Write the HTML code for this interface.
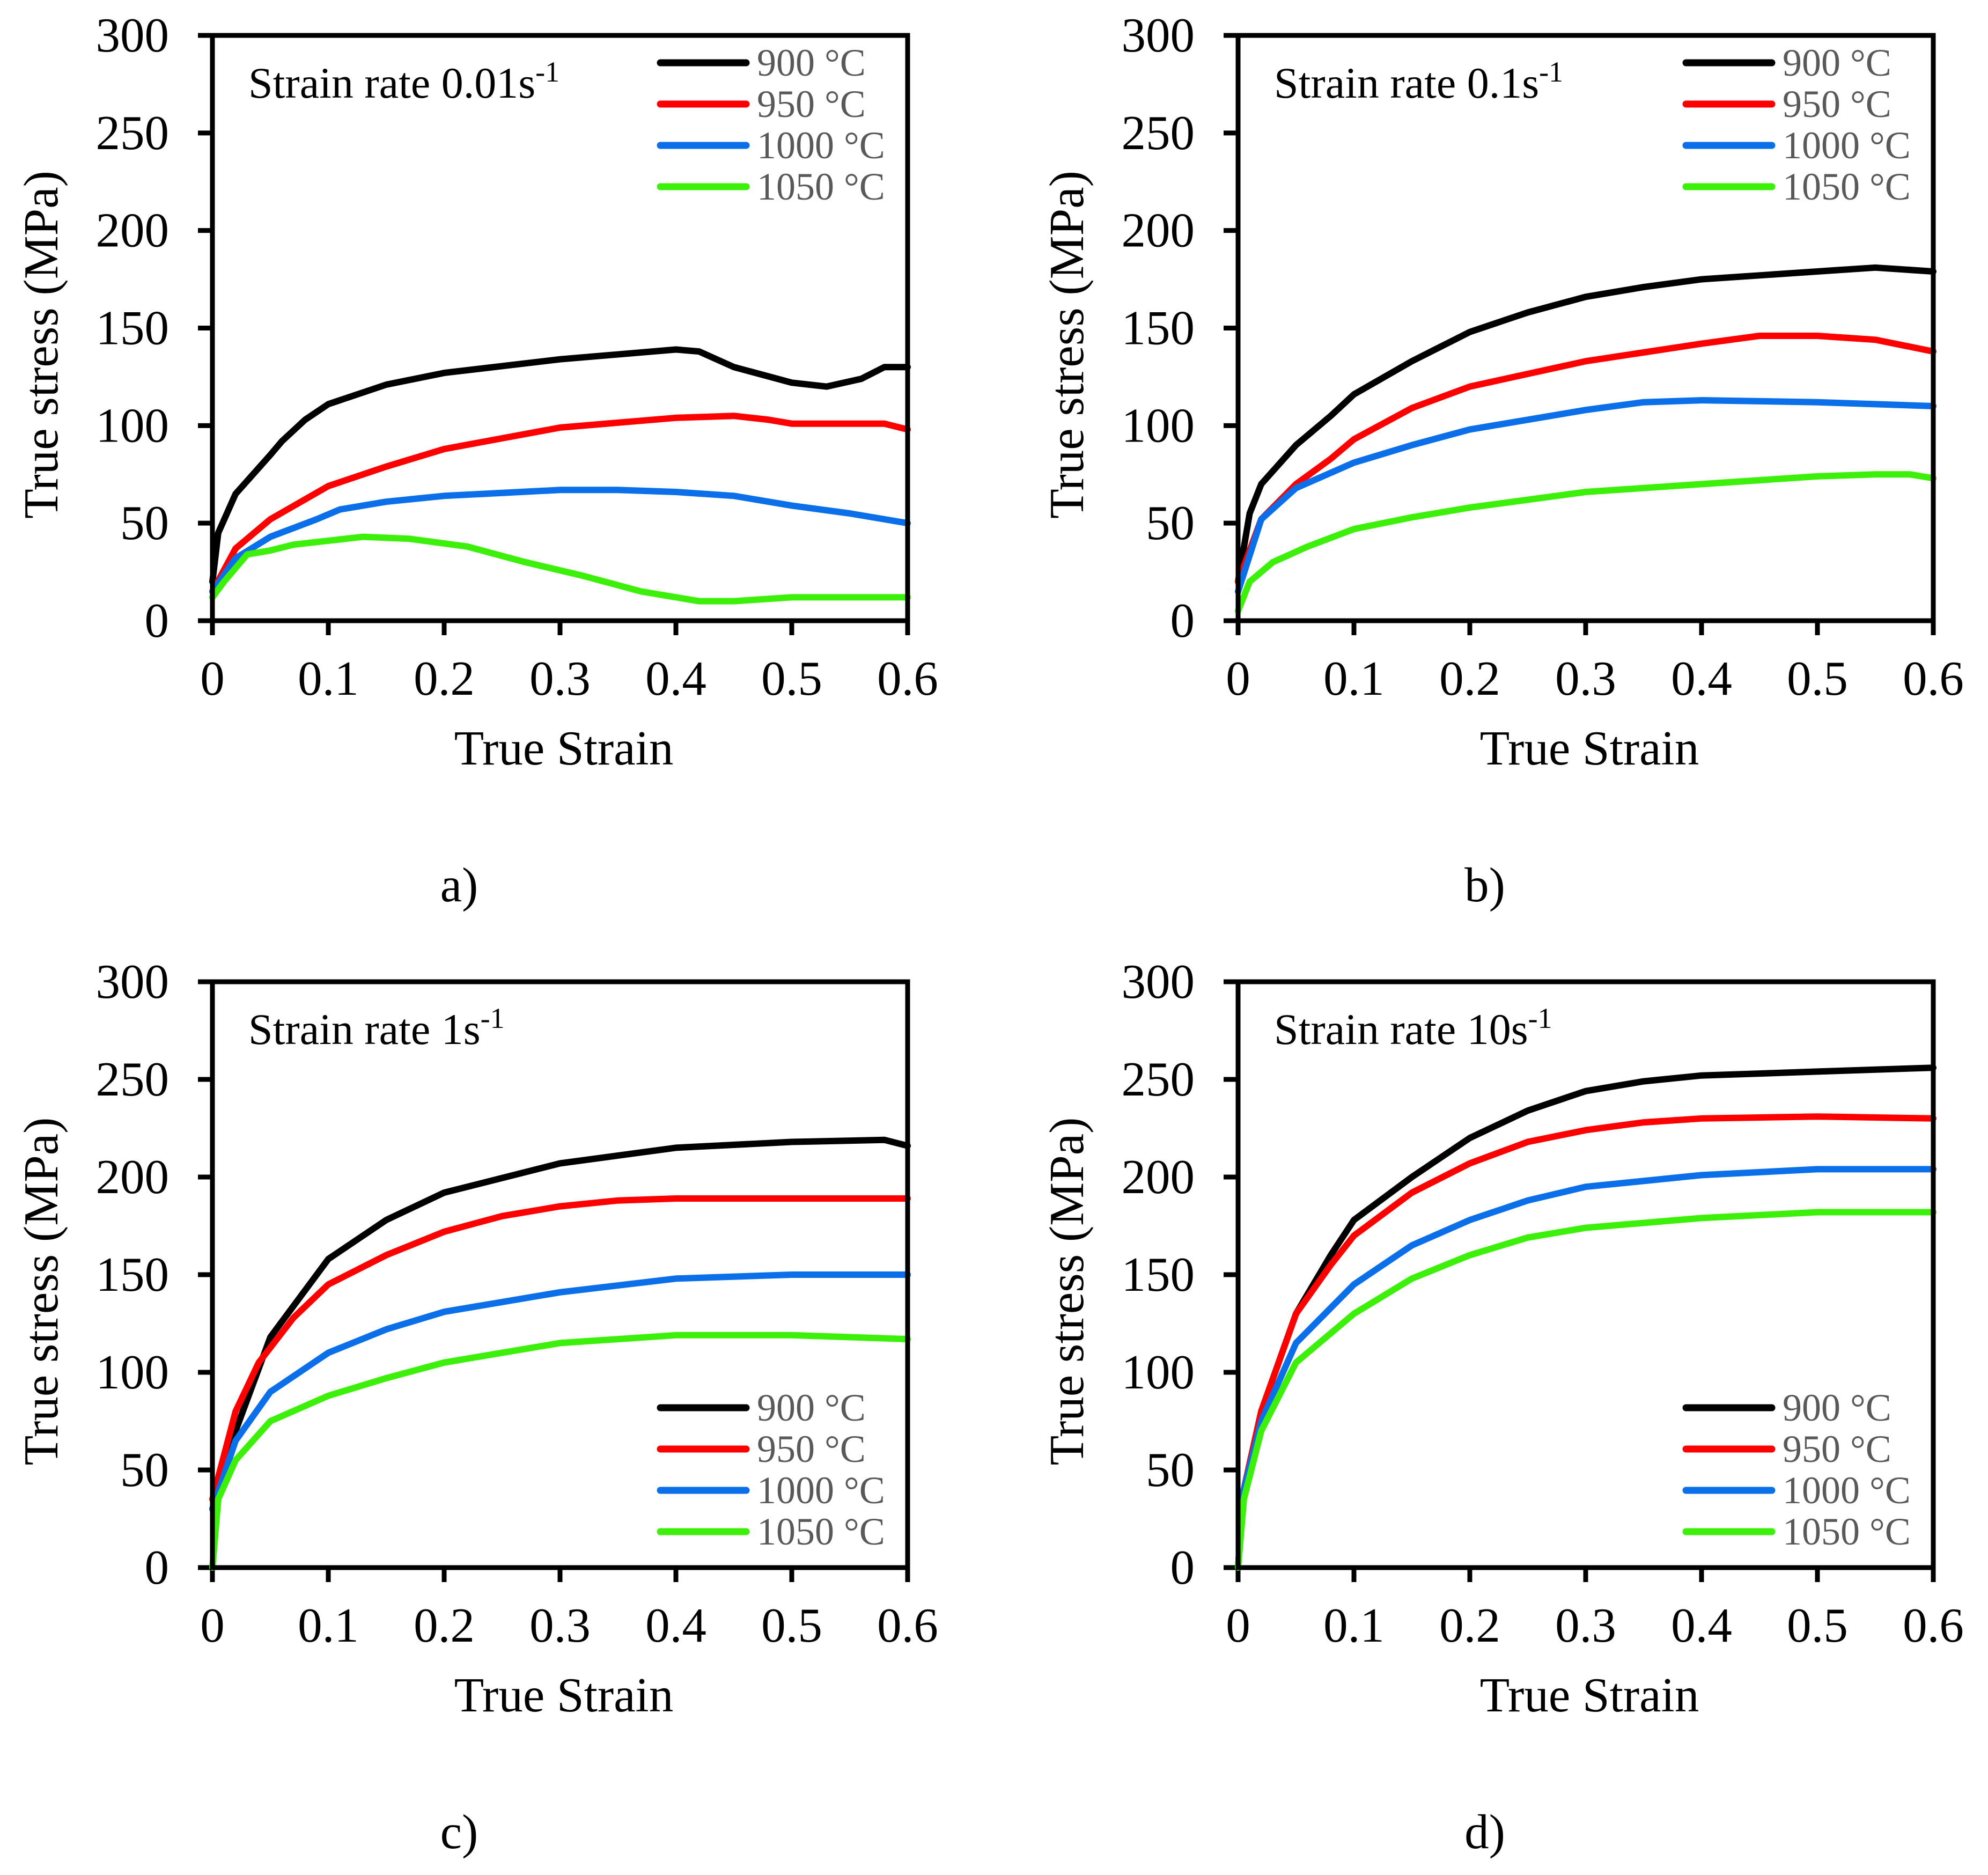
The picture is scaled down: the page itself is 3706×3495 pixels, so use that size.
<!DOCTYPE html>
<html><head><meta charset="utf-8"><style>
html,body{margin:0;padding:0;background:#fff}
svg{display:block}
text{font-family:"Liberation Serif",serif;fill:#000}
</style></head><body>
<svg id="root" width="3706" height="3495" viewBox="0 0 3706 3495" xmlns="http://www.w3.org/2000/svg"></svg>
<script>
// ---- data ----
const xTicks=[0,0.1,0.2,0.3,0.4,0.5,0.6];
const xTickLabels=["0","0.1","0.2","0.3","0.4","0.5","0.6"];
const yTicks=[0,50,100,150,200,250,300];
const yTickLabels=["0","50","100","150","200","250","300"];
const seriesNames=["900 °C","950 °C","1000 °C","1050 °C"];
const seriesColors=["#000000","#ff0000","#0a6fe8","#3cf00a"];
const panelTitles=["Strain rate 0.01s","Strain rate 0.1s","Strain rate 1s","Strain rate 10s"];
const panelLabels=["a)","b)","c)","d)"];

const a900x=[0,0.005,0.02,0.05,0.06,0.08,0.1,0.15,0.2,0.3,0.4,0.42,0.45,0.5,0.53,0.56,0.58,0.6];
const a900y=[20,45,65,85,92,103,111,121,127,134,139,138,130,122,120,124,130,130];
const a950x=[0,0.02,0.05,0.1,0.15,0.2,0.3,0.4,0.45,0.48,0.5,0.55,0.58,0.6];
const a950y=[15,37,52,69,79,88,99,104,105,103,101,101,101,98];
const a1000x=[0,0.02,0.05,0.09,0.11,0.15,0.2,0.3,0.35,0.4,0.45,0.5,0.55,0.6];
const a1000y=[15,32,43,52,57,61,64,67,67,66,64,59,55,50];
const a1050x=[0,0.01,0.03,0.05,0.07,0.1,0.13,0.17,0.22,0.27,0.32,0.37,0.42,0.45,0.5,0.6];
const a1050y=[12,20,34,36,39,41,43,42,38,30,23,15,10,10,12,12];

const b900x=[0,0.01,0.02,0.05,0.08,0.1,0.15,0.2,0.25,0.3,0.35,0.4,0.45,0.5,0.55,0.6];
const b900y=[20,55,70,90,105,116,133,148,158,166,171,175,177,179,181,179];
const b950x=[0,0.02,0.05,0.08,0.1,0.15,0.2,0.3,0.4,0.45,0.5,0.55,0.6];
const b950y=[20,52,70,83,93,109,120,133,142,146,146,144,138];
const b1000x=[0,0.02,0.05,0.1,0.15,0.2,0.3,0.35,0.4,0.5,0.6];
const b1000y=[15,52,68,81,90,98,108,112,113,112,110];
const b1050x=[0,0.01,0.03,0.06,0.1,0.15,0.2,0.3,0.4,0.5,0.55,0.58,0.6];
const b1050y=[5,20,30,38,47,53,58,66,70,74,75,75,73];

const c900x=[0,0.02,0.05,0.1,0.15,0.2,0.3,0.4,0.5,0.58,0.6];
const c900y=[30,70,118,158,178,192,207,215,218,219,216];
const c950x=[0,0.02,0.04,0.07,0.1,0.15,0.2,0.25,0.3,0.35,0.4,0.5,0.6];
const c950y=[35,80,105,128,145,160,172,180,185,188,189,189,189];
const c1000x=[0,0.02,0.05,0.1,0.15,0.2,0.3,0.4,0.5,0.6];
const c1000y=[30,65,90,110,122,131,141,148,150,150];
const c1050x=[0,0.005,0.02,0.05,0.1,0.15,0.2,0.3,0.4,0.5,0.6];
const c1050y=[0,35,55,75,88,97,105,115,119,119,117];

const d900x=[0,0.005,0.02,0.05,0.08,0.1,0.15,0.2,0.25,0.3,0.35,0.4,0.45,0.5,0.6];
const d900y=[0,40,80,130,160,178,200,220,234,244,249,252,253,254,256];
const d950x=[0,0.005,0.02,0.05,0.08,0.1,0.15,0.2,0.25,0.3,0.35,0.4,0.5,0.6];
const d950y=[0,40,80,130,155,170,192,207,218,224,228,230,231,230];
const d1000x=[0,0.005,0.02,0.05,0.1,0.15,0.2,0.25,0.3,0.4,0.5,0.6];
const d1000y=[0,40,75,115,145,165,178,188,195,201,204,204];
const d1050x=[0,0.005,0.02,0.05,0.1,0.15,0.2,0.25,0.3,0.4,0.5,0.6];
const d1050y=[0,35,70,105,130,148,160,169,174,179,182,182];

const panelData=[
 [[a900x,a900y],[a950x,a950y],[a1000x,a1000y],[a1050x,a1050y]],
 [[b900x,b900y],[b950x,b950y],[b1000x,b1000y],[b1050x,b1050y]],
 [[c900x,c900y],[c950x,c950y],[c1000x,c1000y],[c1050x,c1050y]],
 [[d900x,d900y],[d950x,d950y],[d1000x,d1000y],[d1050x,d1050y]]
];

// ---- layout ----
const NS="http://www.w3.org/2000/svg";
const root=document.getElementById('root');
function mk(tag,attrs,parent){const e=document.createElementNS(NS,tag);for(const k in attrs)e.setAttribute(k,attrs[k]);parent.appendChild(e);return e;}
const boxes=[{x0:396,x1:1692,y0:1157,y1:66,leg:"top"},{x0:2308,x1:3604,y0:1157,y1:66,leg:"top"},
 {x0:396,x1:1692,y0:2922,y1:1830,leg:"bottom"},{x0:2308,x1:3604,y0:2922,y1:1830,leg:"bottom"}];
const ids=["a","b","c","d"];
boxes.forEach((b,p)=>{
 const g=mk('g',{},root);
 
 
 const sx=v=>b.x0+(v/0.6)*(b.x1-b.x0);
 const sy=v=>b.y0+(v/300)*(b.y1-b.y0);
 yTicks.forEach((t,i)=>{
  mk('line',{x1:b.x0-27,x2:b.x0,y1:sy(t),y2:sy(t),stroke:'#000','stroke-width':9},g);
  const tx=mk('text',{x:b.x0-81,y:sy(t)+30,'text-anchor':'end','font-size':91},g);
  tx.textContent=yTickLabels[i];
  
  
 });
 xTicks.forEach((t,i)=>{
  mk('line',{x1:sx(t),x2:sx(t),y1:b.y0,y2:b.y0+27,stroke:'#000','stroke-width':9},g);
  const tx=mk('text',{x:sx(t),y:b.y0+138,'text-anchor':'middle','font-size':91},g);
  tx.textContent=xTickLabels[i];
  
  
 });
 const xt=mk('text',{x:b.x0+655,y:b.y0+268,'text-anchor':'middle','font-size':91},g);
 xt.textContent='True Strain';
 
 
 const yc=(b.y0+b.y1)/2+31, yx=b.x0-289;
 const yt=mk('text',{x:yx,y:yc,'text-anchor':'middle','font-size':91,transform:`rotate(-90 ${yx} ${yc})`},g);
 yt.textContent='True stress (MPa)';
 
 
 const pl=mk('text',{x:b.x0+460,y:b.y0+523,'text-anchor':'middle','font-size':91},g);
 pl.textContent=panelLabels[p];
 
 
 const ti=mk('text',{x:b.x0+67,y:b.y1+116,'font-size':82},g);
 ti.textContent=panelTitles[p];
 const sup=mk('tspan',{dy:-30,'font-size':54},ti);
 sup.textContent='-1';
 
 
 // series
 panelData[p].forEach((s,k)=>{
  const xs=s[0],ys=s[1];
  let d='';
  for(let i=0;i<xs.length;i++)d+=(i?'L':'M')+sx(xs[i]).toFixed(1)+' '+sy(ys[i]).toFixed(1);
  const pa=mk('path',{d:d,stroke:seriesColors[k],'stroke-width':12,fill:'none','stroke-linejoin':'round','stroke-linecap':'round'},g);
  
  
 });
 // frame
 const fr=mk('rect',{x:b.x0,y:b.y1,width:b.x1-b.x0,height:b.y0-b.y1,stroke:'#000','stroke-width':9,fill:'none'},g);
 
 
 // legend
 const ly0=b.leg==='top'?b.y1+51:b.y0-298;
 seriesNames.forEach((n,k)=>{
  const y=ly0+k*77;
  const lg=mk('g',{},g);
  
  
  mk('line',{x1:b.x1-461,x2:b.x1-301,y1:y,y2:y,stroke:seriesColors[k],'stroke-width':13,'stroke-linecap':'round'},lg);
  const t=mk('text',{x:b.x1-281,y:y+24,'font-size':72},lg);
  t.setAttribute('style','fill:#595959');
  t.textContent=n;
 });
});
</script>
</body></html>
